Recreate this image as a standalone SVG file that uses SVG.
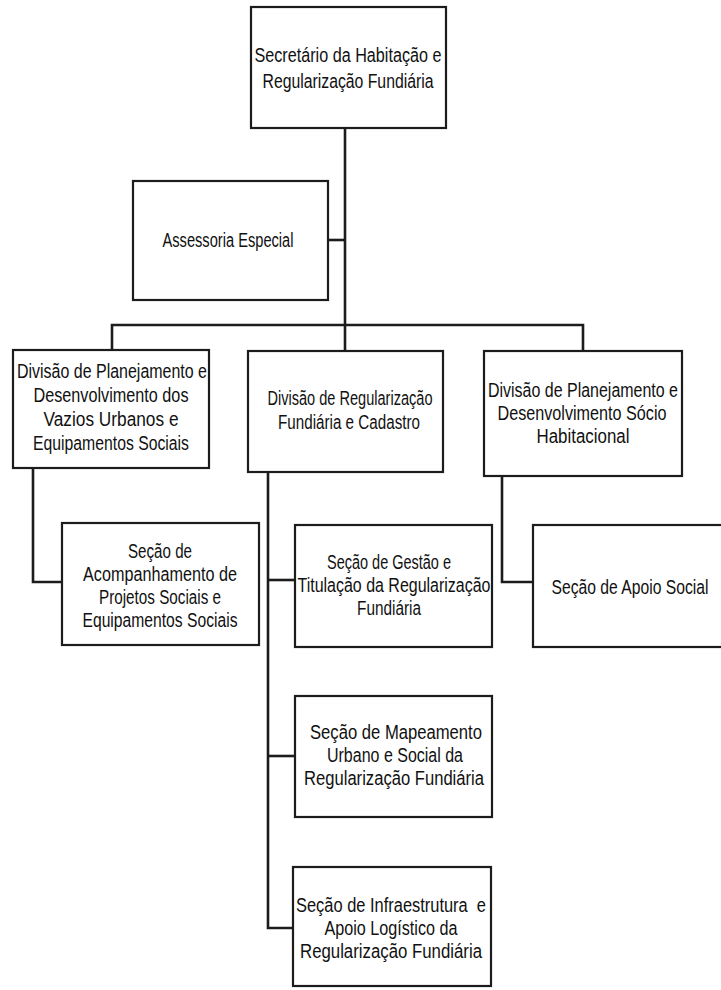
<svg xmlns="http://www.w3.org/2000/svg" width="721" height="990" viewBox="0 0 721 990">
  <style>
    .box { fill: #ffffff; stroke: #1c1c1c; stroke-width: 2.2; }
    .wire { fill: none; stroke: #1c1c1c; stroke-width: 2.6; stroke-linejoin: miter; }
    .lbl { font-family: "Liberation Sans", "DejaVu Sans", sans-serif; font-size: 20px; fill: #111111; text-anchor: middle; dominant-baseline: central; }
  </style>
  <rect x="0" y="0" width="721" height="990" fill="#ffffff"/>

  <!-- connectors -->
  <g id="connectors">
    <path class="wire" d="M345 128 V352"/>
    <path class="wire" d="M328 240 H345"/>
    <path class="wire" d="M112 350 V325 H583 V352"/>
    <path class="wire" d="M33 468 V582 H62"/>
    <path class="wire" d="M268 472 V928 H293"/>
    <path class="wire" d="M268 580 H295"/>
    <path class="wire" d="M268 756 H295"/>
    <path class="wire" d="M502 476 V582 H533"/>
  </g>

  <g id="secretario">
    <rect class="box" x="251" y="7" width="195" height="121"/>
    <text class="lbl" x="348" y="55" textLength="187" lengthAdjust="spacingAndGlyphs">Secretário da Habitação e</text>
    <text class="lbl" x="348" y="81" textLength="171" lengthAdjust="spacingAndGlyphs">Regularização Fundiária</text>
  </g>

  <g id="assessoria">
    <rect class="box" x="133" y="181" width="195" height="119"/>
    <text class="lbl" x="228" y="240" textLength="131" lengthAdjust="spacingAndGlyphs">Assessoria Especial</text>
  </g>

  <g id="div-vazios">
    <rect class="box" x="13" y="350" width="196" height="118"/>
    <text class="lbl" x="112" y="371" textLength="190" lengthAdjust="spacingAndGlyphs">Divisão de Planejamento e</text>
    <text class="lbl" x="111" y="395" textLength="155" lengthAdjust="spacingAndGlyphs">Desenvolvimento dos</text>
    <text class="lbl" x="111" y="419" textLength="135" lengthAdjust="spacingAndGlyphs">Vazios Urbanos e</text>
    <text class="lbl" x="111" y="443" textLength="156" lengthAdjust="spacingAndGlyphs">Equipamentos Sociais</text>
  </g>

  <g id="div-regularizacao">
    <rect class="box" x="248" y="351" width="195" height="121"/>
    <text class="lbl" x="350" y="398" textLength="165" lengthAdjust="spacingAndGlyphs">Divisão de Regularização</text>
    <text class="lbl" x="349" y="422" textLength="142" lengthAdjust="spacingAndGlyphs">Fundiária e Cadastro</text>
  </g>

  <g id="div-socio">
    <rect class="box" x="484" y="351" width="198" height="125"/>
    <text class="lbl" x="583" y="390" textLength="190" lengthAdjust="spacingAndGlyphs">Divisão de Planejamento e</text>
    <text class="lbl" x="582" y="413" textLength="169" lengthAdjust="spacingAndGlyphs">Desenvolvimento Sócio</text>
    <text class="lbl" x="583" y="436" textLength="93" lengthAdjust="spacingAndGlyphs">Habitacional</text>
  </g>

  <g id="sec-acompanhamento">
    <rect class="box" x="62" y="523" width="197" height="122"/>
    <text class="lbl" x="160" y="551" textLength="64" lengthAdjust="spacingAndGlyphs">Seção de</text>
    <text class="lbl" x="160" y="574" textLength="154" lengthAdjust="spacingAndGlyphs">Acompanhamento de</text>
    <text class="lbl" x="160" y="597" textLength="122" lengthAdjust="spacingAndGlyphs">Projetos Sociais e</text>
    <text class="lbl" x="160" y="620" textLength="155" lengthAdjust="spacingAndGlyphs">Equipamentos Sociais</text>
  </g>

  <g id="sec-gestao">
    <rect class="box" x="295" y="525" width="197" height="122"/>
    <text class="lbl" x="389" y="562" textLength="124" lengthAdjust="spacingAndGlyphs">Seção de Gestão e</text>
    <text class="lbl" x="394" y="585" textLength="193" lengthAdjust="spacingAndGlyphs">Titulação da Regularização</text>
    <text class="lbl" x="389" y="608" textLength="64" lengthAdjust="spacingAndGlyphs">Fundiária</text>
  </g>

  <g id="sec-apoio-social">
    <rect class="box" x="533" y="525" width="200" height="122"/>
    <text class="lbl" x="630" y="587" textLength="157" lengthAdjust="spacingAndGlyphs">Seção de Apoio Social</text>
  </g>

  <g id="sec-mapeamento">
    <rect class="box" x="295" y="696" width="197" height="121"/>
    <text class="lbl" x="396" y="732" textLength="172" lengthAdjust="spacingAndGlyphs">Seção de Mapeamento</text>
    <text class="lbl" x="395" y="755" textLength="136" lengthAdjust="spacingAndGlyphs">Urbano e Social da</text>
    <text class="lbl" x="394" y="778" textLength="180" lengthAdjust="spacingAndGlyphs">Regularização Fundiária</text>
  </g>

  <g id="sec-infraestrutura">
    <rect class="box" x="293" y="867" width="198" height="119"/>
    <text class="lbl" x="391" y="905" textLength="190" lengthAdjust="spacingAndGlyphs" xml:space="preserve">Seção de Infraestrutura  e</text>
    <text class="lbl" x="391" y="928" textLength="133" lengthAdjust="spacingAndGlyphs">Apoio Logístico da</text>
    <text class="lbl" x="391" y="951" textLength="182" lengthAdjust="spacingAndGlyphs">Regularização Fundiária</text>
  </g>
</svg>
